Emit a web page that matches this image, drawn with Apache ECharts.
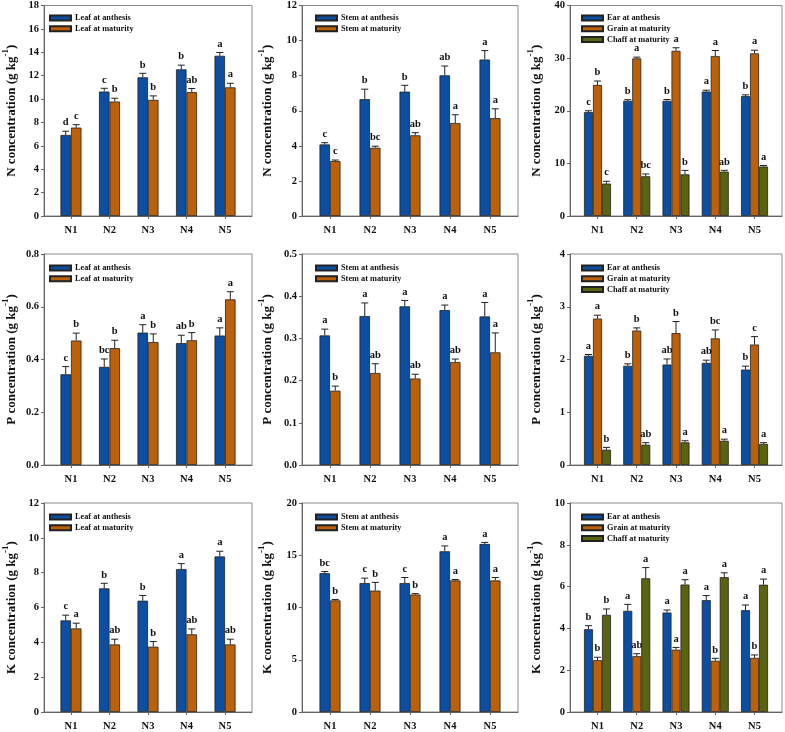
<!DOCTYPE html>
<html>
<head>
<meta charset="utf-8">
<script src="https://cdn.jsdelivr.net/npm/echarts@6/dist/echarts.min.js"></script>
<style>
html, body { margin: 0; padding: 0; background: #fff; }
#main { width: 785px; height: 732px; }
</style>
</head>
<body>
<div id="main"></div>
<script>
var cats = ['N1', 'N2', 'N3', 'N4', 'N5'];

// N concentration
var nLeafAnth = [6.93, 10.64, 11.86, 12.54, 13.70];
var nLeafAnthErr = [0.32, 0.28, 0.34, 0.36, 0.28];
var nLeafAnthSig = ['d', 'c', 'b', 'b', 'a'];
var nLeafMat = [7.56, 9.79, 9.93, 10.59, 11.00];
var nLeafMatErr = [0.25, 0.28, 0.34, 0.31, 0.35];
var nLeafMatSig = ['c', 'b', 'b', 'ab', 'a'];

var nStemAnth = [4.08, 6.66, 7.09, 8.02, 8.92];
var nStemAnthErr = [0.10, 0.57, 0.36, 0.53, 0.51];
var nStemAnthSig = ['c', 'b', 'b', 'ab', 'a'];
var nStemMat = [3.13, 3.89, 4.60, 5.30, 5.58];
var nStemMatErr = [0.06, 0.09, 0.15, 0.47, 0.53];
var nStemMatSig = ['c', 'bc', 'ab', 'a', 'a'];

var nEarAnth = [19.75, 21.9, 21.9, 23.65, 22.77];
var nEarAnthErr = [0.25, 0.2, 0.25, 0.25, 0.25];
var nEarAnthSig = ['c', 'b', 'b', 'a', 'b'];
var nGrainMat = [24.9, 29.94, 31.4, 30.4, 30.9];
var nGrainMatErr = [0.75, 0.25, 0.57, 1.05, 0.6];
var nGrainMatSig = ['b', 'a', 'a', 'a', 'a'];
var nChaffMat = [6.16, 7.55, 7.92, 8.43, 9.4];
var nChaffMatErr = [0.44, 0.44, 0.75, 0.25, 0.2];
var nChaffMatSig = ['c', 'bc', 'b', 'ab', 'a'];

// P concentration
var pLeafAnth = [0.344, 0.372, 0.502, 0.462, 0.491];
var pLeafAnthErr = [0.029, 0.03, 0.03, 0.03, 0.029];
var pLeafAnthSig = ['c', 'bc', 'a', 'ab', 'a'];
var pLeafMat = [0.472, 0.443, 0.466, 0.473, 0.628];
var pLeafMatErr = [0.028, 0.03, 0.031, 0.029, 0.029];
var pLeafMatSig = ['b', 'b', 'b', 'b', 'a'];

var pStemAnth = [0.307, 0.353, 0.376, 0.367, 0.352];
var pStemAnthErr = [0.015, 0.031, 0.014, 0.012, 0.033];
var pStemAnthSig = ['a', 'a', 'a', 'a', 'a'];
var pStemMat = [0.176, 0.218, 0.205, 0.244, 0.267];
var pStemMatErr = [0.011, 0.022, 0.010, 0.007, 0.046];
var pStemMatSig = ['b', 'ab', 'ab', 'ab', 'a'];

var pEarAnth = [2.07, 1.88, 1.905, 1.937, 1.81];
var pEarAnthErr = [0.025, 0.038, 0.105, 0.05, 0.064];
var pEarAnthSig = ['a', 'b', 'ab', 'ab', 'b'];
var pGrainMat = [2.776, 2.549, 2.5, 2.4, 2.284];
var pGrainMatErr = [0.064, 0.05, 0.22, 0.16, 0.15];
var pGrainMatSig = ['a', 'b', 'b', 'bc', 'c'];
var pChaffMat = [0.29, 0.385, 0.43, 0.46, 0.40];
var pChaffMatErr = [0.044, 0.038, 0.03, 0.03, 0.023];
var pChaffMatSig = ['b', 'ab', 'a', 'a', 'a'];

// K concentration
var kLeafAnth = [5.26, 7.1, 6.39, 8.21, 8.93];
var kLeafAnthErr = [0.3, 0.29, 0.3, 0.31, 0.3];
var kLeafAnthSig = ['c', 'b', 'b', 'a', 'a'];
var kLeafMat = [4.8, 3.88, 3.75, 4.46, 3.88];
var kLeafMatErr = [0.3, 0.3, 0.3, 0.31, 0.3];
var kLeafMatSig = ['a', 'ab', 'b', 'ab', 'ab'];

var kStemAnth = [13.28, 12.34, 12.34, 15.38, 16.08];
var kStemAnthErr = [0.16, 0.47, 0.53, 0.51, 0.15];
var kStemAnthSig = ['bc', 'c', 'c', 'a', 'a'];
var kStemMat = [10.68, 11.62, 11.24, 12.59, 12.59];
var kStemMatErr = [0.09, 0.78, 0.09, 0.09, 0.28];
var kStemMatSig = ['b', 'b', 'b', 'a', 'a'];

var kEarAnth = [3.96, 4.84, 4.76, 5.35, 4.87];
var kEarAnthErr = [0.17, 0.31, 0.12, 0.22, 0.25];
var kEarAnthSig = ['b', 'a', 'a', 'a', 'a'];
var kGrainMat = [2.48, 2.67, 2.98, 2.45, 2.59];
var kGrainMatErr = [0.14, 0.12, 0.11, 0.12, 0.14];
var kGrainMatSig = ['b', 'ab', 'a', 'b', 'b'];
var kChaffMat = [4.65, 6.4, 6.1, 6.45, 6.09];
var kChaffMatErr = [0.28, 0.51, 0.23, 0.21, 0.27];
var kChaffMatSig = ['b', 'a', 'a', 'a', 'a'];

var panels = [
    {elem: 'N', yMax: 18, yStep: 2, dec: 0, parts: [
        ['Leaf at anthesis', nLeafAnth, nLeafAnthErr, nLeafAnthSig],
        ['Leaf at maturity', nLeafMat, nLeafMatErr, nLeafMatSig]]},
    {elem: 'N', yMax: 12, yStep: 2, dec: 0, parts: [
        ['Stem at anthesis', nStemAnth, nStemAnthErr, nStemAnthSig],
        ['Stem at maturity', nStemMat, nStemMatErr, nStemMatSig]]},
    {elem: 'N', yMax: 40, yStep: 10, dec: 0, parts: [
        ['Ear at anthesis', nEarAnth, nEarAnthErr, nEarAnthSig],
        ['Grain at maturity', nGrainMat, nGrainMatErr, nGrainMatSig],
        ['Chaff at maturity', nChaffMat, nChaffMatErr, nChaffMatSig]]},
    {elem: 'P', yMax: 0.8, yStep: 0.2, dec: 1, parts: [
        ['Leaf at anthesis', pLeafAnth, pLeafAnthErr, pLeafAnthSig],
        ['Leaf at maturity', pLeafMat, pLeafMatErr, pLeafMatSig]]},
    {elem: 'P', yMax: 0.5, yStep: 0.1, dec: 1, parts: [
        ['Stem at anthesis', pStemAnth, pStemAnthErr, pStemAnthSig],
        ['Stem at maturity', pStemMat, pStemMatErr, pStemMatSig]]},
    {elem: 'P', yMax: 4, yStep: 1, dec: 0, parts: [
        ['Ear at anthesis', pEarAnth, pEarAnthErr, pEarAnthSig],
        ['Grain at maturity', pGrainMat, pGrainMatErr, pGrainMatSig],
        ['Chaff at maturity', pChaffMat, pChaffMatErr, pChaffMatSig]]},
    {elem: 'K', yMax: 12, yStep: 2, dec: 0, parts: [
        ['Leaf at anthesis', kLeafAnth, kLeafAnthErr, kLeafAnthSig],
        ['Leaf at maturity', kLeafMat, kLeafMatErr, kLeafMatSig]]},
    {elem: 'K', yMax: 20, yStep: 5, dec: 0, parts: [
        ['Stem at anthesis', kStemAnth, kStemAnthErr, kStemAnthSig],
        ['Stem at maturity', kStemMat, kStemMatErr, kStemMatSig]]},
    {elem: 'K', yMax: 10, yStep: 2, dec: 0, parts: [
        ['Ear at anthesis', kEarAnth, kEarAnthErr, kEarAnthSig],
        ['Grain at maturity', kGrainMat, kGrainMatErr, kGrainMatSig],
        ['Chaff at maturity', kChaffMat, kChaffMatErr, kChaffMatSig]]}
];

var colors = ['#0B4EA2', '#BD600A', '#5B6210'];
var font = "'Liberation Serif', 'Times New Roman', serif";
var colLeft = [40, 302, 570], colWidth = [212, 216, 212];
var rowTop = [4, 254, 503], rowHeight = [212, 211, 212];
var legendShift = [4, 8, 6], nameGap = [26, 28, 27];

function errRender(offset, sig) {
    return function (params, api) {
        var x = api.value(0), y = api.value(1), e = api.value(2);
        var p0 = api.coord([x, y]);
        var p1 = api.coord([x, y + e]);
        var cx = p0[0] + offset;
        var st = {stroke: '#222', lineWidth: 1};
        return {
            type: 'group',
            children: [
                {type: 'line', shape: {x1: cx, y1: p0[1], x2: cx, y2: p1[1]}, style: st},
                {type: 'line', shape: {x1: cx - 3.5, y1: p1[1], x2: cx + 3.5, y2: p1[1]}, style: st},
                {type: 'text', style: {
                    text: sig[params.dataIndex], x: cx, y: p1[1] - 3,
                    textAlign: 'center', textVerticalAlign: 'bottom',
                    fontSize: 10.5, fontWeight: 'bold', fontFamily: font, fill: '#111'
                }}
            ]
        };
    };
}

var grids = [], xAxes = [], yAxes = [], legends = [], series = [];

panels.forEach(function (p, k) {
    var c = k % 3, r = Math.floor(k / 3);
    grids.push({
        left: colLeft[c], top: rowTop[r], width: colWidth[c], height: rowHeight[r],
        show: true, borderColor: '#8a8a8a', borderWidth: 1, backgroundColor: 'transparent'
    });
    xAxes.push({
        type: 'value', gridIndex: k, min: 0.3, max: 5.7,
        axisLine: {lineStyle: {color: '#666'}},
        axisTick: {show: true, length: 3, customValues: [1, 2, 3, 4, 5], lineStyle: {color: '#666'}},
        axisLabel: {
            customValues: [1, 2, 3, 4, 5], margin: 9, color: '#111',
            fontSize: 10.5, fontWeight: 'bold', fontFamily: font,
            formatter: function (v) { return cats[Math.round(v) - 1] || ''; }
        },
        splitLine: {show: false}
    });
    yAxes.push({
        type: 'value', gridIndex: k, min: 0, max: p.yMax, interval: p.yStep,
        axisLine: {show: true, lineStyle: {color: '#666'}},
        axisTick: {show: true, length: 3, lineStyle: {color: '#666'}},
        axisLabel: {
            margin: 5, color: '#111', fontSize: 10.5, fontWeight: 'bold', fontFamily: font,
            formatter: function (v) { return v.toFixed(p.dec); }
        },
        splitLine: {show: false},
        name: '{t|' + p.elem + ' concentration (g kg}{s|-1}{t|)}',
        nameLocation: 'middle', nameGap: nameGap[c],
        nameTextStyle: {
            rich: {
                t: {fontSize: 13, fontWeight: 'bold', fontFamily: font, color: '#111', lineHeight: 17, verticalAlign: 'bottom'},
                s: {fontSize: 9, fontWeight: 'bold', fontFamily: font, color: '#111', lineHeight: 17, verticalAlign: 'top'}
            }
        }
    });
    var n = p.parts.length;
    var bw = n === 2 ? 10.5 : 9;
    legends.push({
        data: p.parts.map(function (q) { return q[0]; }),
        left: colLeft[c] + legendShift[c], top: rowTop[r] + 4.5,
        orient: 'vertical', icon: 'rect', itemWidth: 21, itemHeight: 5, itemGap: 1.7,
        selectedMode: false,
        textStyle: {fontSize: 8.3, fontWeight: 'bold', fontFamily: font, color: '#111', lineHeight: 9, padding: [0, 0, 0, -1]}
    });
    p.parts.forEach(function (q, i) {
        var pts = q[1].map(function (v, j) { return [j + 1, v, q[2][j]]; });
        series.push({
            type: 'bar', name: q[0], xAxisIndex: k, yAxisIndex: k,
            barWidth: bw, barGap: '0%',
            itemStyle: {color: colors[i], borderColor: '#222', borderWidth: 0.8},
            data: pts.map(function (d) { return [d[0], d[1]]; })
        });
        series.push({
            type: 'custom', xAxisIndex: k, yAxisIndex: k,
            renderItem: errRender((i - (n - 1) / 2) * bw, q[3]),
            encode: {x: 0, y: 1},
            data: pts, z: 3, silent: true
        });
    });
});

var chart = echarts.init(document.getElementById('main'));
chart.setOption({
    animation: false,
    grid: grids,
    xAxis: xAxes,
    yAxis: yAxes,
    legend: legends,
    series: series
});
</script>
</body>
</html>
